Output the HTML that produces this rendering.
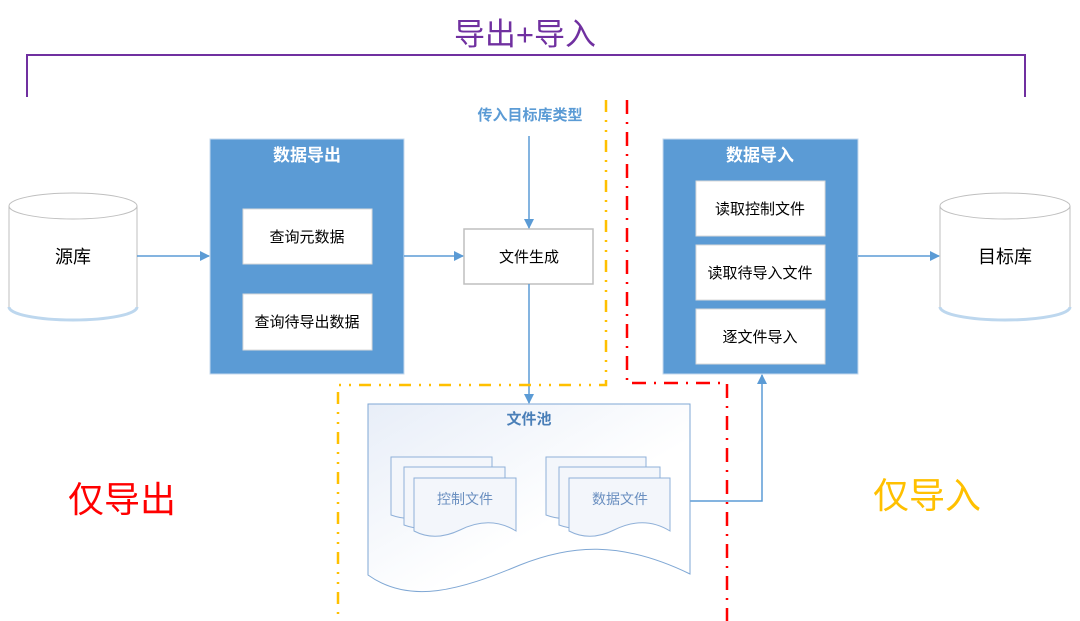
<!DOCTYPE html>
<html><head><meta charset="utf-8"><style>
html,body{margin:0;padding:0;background:#fff;}
svg{display:block;}
text{font-family:"Liberation Sans","Noto Sans CJK SC",sans-serif;}
</style></head><body>
<svg width="1080" height="621" viewBox="0 0 1080 621" xmlns="http://www.w3.org/2000/svg">
<defs>
<marker id="ar" markerWidth="10" markerHeight="10" refX="9" refY="5" orient="auto" markerUnits="userSpaceOnUse">
<path d="M0,0 L10,5 L0,10 z" fill="#5b9bd5"/></marker>
<linearGradient id="pg" x1="0" y1="0" x2="1" y2="1"><stop offset="0" stop-color="#e8eef8"/><stop offset="0.6" stop-color="#ffffff"/></linearGradient>
</defs>
<!-- top bracket -->
<text x="525" y="45" font-size="31" fill="#7030a0" text-anchor="middle">导出+导入</text>
<path d="M27,97 L27,55 L1025,55 L1025,97" fill="none" stroke="#7030a0" stroke-width="2"/>
<!-- source cylinder -->
<path d="M9,206 L9,307 A64,13 0 0 0 137,307 L137,206" fill="#fff" stroke="#bfbfbf" stroke-width="1"/>
<path d="M9,307 A64,13 0 0 0 137,307" fill="none" stroke="#bdd7ee" stroke-width="3"/>
<ellipse cx="73" cy="206" rx="64" ry="13" fill="#fff" stroke="#bfbfbf"/>
<text x="73" y="263" font-size="18" text-anchor="middle" fill="#000">源库</text>
<!-- target cylinder -->
<path d="M940,206 L940,307 A65,13 0 0 0 1070,307 L1070,206" fill="#fff" stroke="#bfbfbf"/>
<path d="M940,307 A65,13 0 0 0 1070,307" fill="none" stroke="#bdd7ee" stroke-width="3"/>
<ellipse cx="1005" cy="206" rx="65" ry="13" fill="#fff" stroke="#bfbfbf"/>
<text x="1005" y="263" font-size="18" text-anchor="middle" fill="#000">目标库</text>
<!-- export box -->
<rect x="210" y="139" width="194" height="235" fill="#5b9bd5" stroke="#c5d9ee"/>
<text x="307" y="161" font-size="17" font-weight="bold" fill="#fff" text-anchor="middle">数据导出</text>
<rect x="243" y="209" width="129" height="55" fill="#fff" stroke="#d9d9d9"/>
<text x="307" y="242" font-size="15" text-anchor="middle" fill="#000">查询元数据</text>
<rect x="243" y="294" width="129" height="56" fill="#fff" stroke="#d9d9d9"/>
<text x="307" y="327" font-size="15" text-anchor="middle" fill="#000">查询待导出数据</text>
<!-- import box -->
<rect x="663" y="139" width="195" height="235" fill="#5b9bd5" stroke="#c5d9ee"/>
<text x="760" y="161" font-size="17" font-weight="bold" fill="#fff" text-anchor="middle">数据导入</text>
<rect x="696" y="181" width="129" height="55" fill="#fff" stroke="#d9d9d9"/>
<text x="760" y="214" font-size="15" text-anchor="middle" fill="#000">读取控制文件</text>
<rect x="696" y="245" width="129" height="55" fill="#fff" stroke="#d9d9d9"/>
<text x="760" y="278" font-size="15" text-anchor="middle" fill="#000">读取待导入文件</text>
<rect x="696" y="309" width="129" height="55" fill="#fff" stroke="#d9d9d9"/>
<text x="760" y="342" font-size="15" text-anchor="middle" fill="#000">逐文件导入</text>
<!-- file gen -->
<rect x="464" y="229" width="129" height="55" fill="#fff" stroke="#bfbfbf" stroke-width="1.5"/>
<text x="529" y="262" font-size="15" text-anchor="middle" fill="#000">文件生成</text>
<text x="530" y="120" font-size="15" font-weight="bold" fill="#5b9bd5" text-anchor="middle">传入目标库类型</text>
<!-- arrows -->
<g stroke="#5b9bd5" stroke-width="1.5" fill="none">
<line x1="137" y1="256" x2="209" y2="256" marker-end="url(#ar)"/>
<line x1="404" y1="256" x2="463" y2="256" marker-end="url(#ar)"/>
<line x1="529" y1="136" x2="529" y2="228" marker-end="url(#ar)"/>
<line x1="529" y1="284" x2="529" y2="403" marker-end="url(#ar)"/>
<line x1="858" y1="256" x2="939" y2="256" marker-end="url(#ar)"/>
<path d="M690,501 L762,501 L762,375" marker-end="url(#ar)"/>
</g>
<!-- file pool -->
<path d="M368,404 L690,404 L690,574 C620,540 570,545 520,565 C460,590 410,605 368,575 Z" fill="url(#pg)" stroke="#7fa7d4"/>
<text x="529" y="424" font-size="15" font-weight="bold" fill="#4a7fb8" text-anchor="middle">文件池</text>
<g stroke="#8fb0d8" fill="#f3f6fb">
<path d="M391,457 L492,457 L492,515 Q460,500 430,515 Q410,522 391,515 Z"/>
<path d="M404,467 L505,467 L505,525 Q473,510 443,525 Q423,532 404,525 Z"/>
<path d="M414,478 L516,478 L516,531 Q490,515 460,530 Q435,542 414,531 Z"/>
<path d="M546,457 L646,457 L646,515 Q614,500 584,515 Q564,522 546,515 Z"/>
<path d="M559,467 L660,467 L660,525 Q628,510 598,525 Q578,532 559,525 Z"/>
<path d="M569,478 L670,478 L670,531 Q644,515 614,530 Q590,542 569,531 Z"/>
</g>
<text x="465" y="504" font-size="14" fill="#6a8fc0" text-anchor="middle">控制文件</text>
<text x="620" y="504" font-size="14" fill="#6a8fc0" text-anchor="middle">数据文件</text>
<!-- orange dash-dot-dot -->
<path d="M606,100 L606,385 L338,385 L338,621" fill="none" stroke="#ffc000" stroke-width="2.5" stroke-dasharray="12,8,2,8,2,8"/>
<!-- red dash-dot -->
<path d="M627,100 L627,383 L727,383 L727,621" fill="none" stroke="#ff0000" stroke-width="2.5" stroke-dasharray="14,8,2,8"/>
<text x="122" y="512" font-size="36" fill="#ff0000" text-anchor="middle">仅导出</text>
<text x="927" y="508" font-size="36" fill="#ffc000" text-anchor="middle">仅导入</text>
</svg>
</body></html>
